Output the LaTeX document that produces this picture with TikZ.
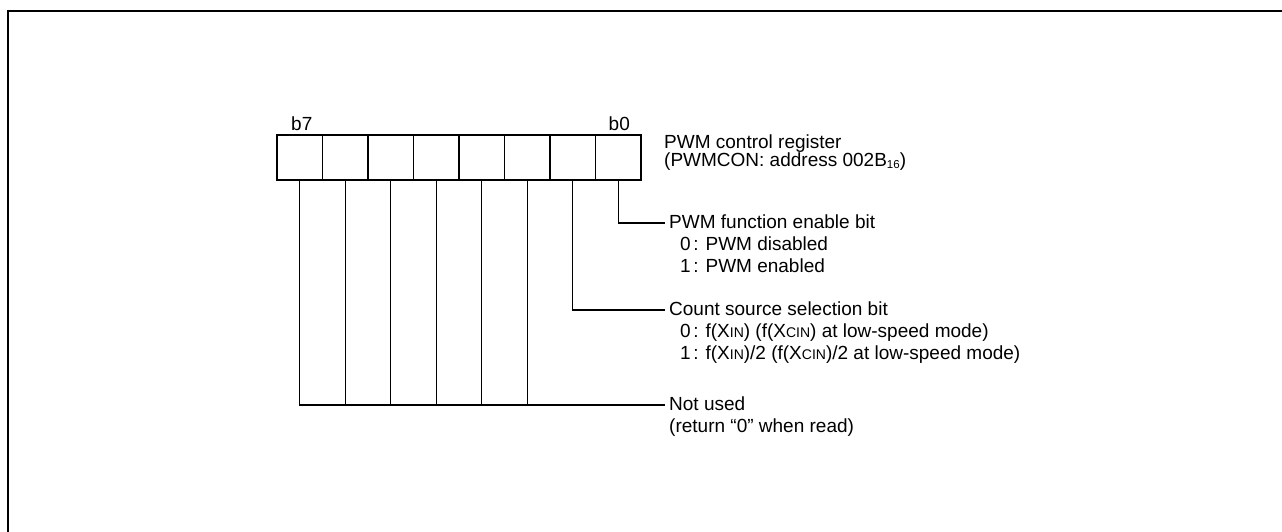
\documentclass[tikz,border=0pt]{standalone}
\usepackage{fontspec}
\setmainfont{Liberation Sans}
\begin{document}
\begin{tikzpicture}[x=1pt,y=-1pt,
  cell/.style={draw, line width=1.3pt, rectangle, minimum width=45.5pt, minimum height=45pt, inner sep=0pt},
  conn/.style={line width=1.3pt},
  lbl/.style={anchor=base west, inner sep=0pt, font=\fontsize{19}{22}\selectfont},
  frame/.style={line width=2.3pt}]
\useasboundingbox (0,0) rectangle (1282,531);
\clip (0,0) rectangle (1282,531);
\newcommand{\smc}[1]{{\fontsize{14}{14}\selectfont #1}}
\newcommand{\subsc}[1]{\raisebox{-2pt}{\fontsize{11.5}{11.5}\selectfont #1}}
% outer frame (only top and left visible)
\draw[frame] (8,540) -- (8,11) -- (1290,11);
% register cells
\foreach \i/\b in {0/7,1/6,2/5,3/4,4/3,5/2,6/1,7/0}{
  \node[cell] (c\b) at ({299.75+45.5*\i},157.5) {};
}
\node[lbl] (b7) at (291,130) {b7};
\node[lbl] (b0) at (608.5,130) {b0};
\node[lbl] (reg1) at (664,148) {PWM control register};
\node[lbl] (reg2) at (664,166.5) {(PWMCON: address 002B\subsc{16})};
% bit 0
\coordinate (e0) at (665,223);
\draw[conn] (c0.south) |- (e0);
\node[lbl] (t0a) at (669,228) {PWM function enable bit};
\node[lbl] (t0b) at (680,250) {0\hspace{2.5pt}: PWM disabled};
\node[lbl] (t0c) at (680,272) {1\hspace{2.5pt}: PWM enabled};
% bit 1
\coordinate (e1) at (665,310);
\draw[conn] (c1.south) |- (e1);
\node[lbl] (t1a) at (669,315) {Count source selection bit};
\node[lbl] (t1b) at (680,337) {0\hspace{2.5pt}: f(X\smc{IN}) (f(X\smc{CIN}) at low-speed mode)};
\node[lbl] (t1c) at (680,359) {1\hspace{2.5pt}: f(X\smc{IN})/2 (f(X\smc{CIN})/2 at low-speed mode)};
% bits 7..2
\coordinate (e7) at (665,405);
\draw[conn] (c7.south) |- (e7);
\foreach \b in {6,5,4,3,2}{
  \draw[conn] (c\b.south) -- (c\b.south |- e7);
}
\node[lbl] (t7a) at (669,410) {Not used};
\node[lbl] (t7b) at (669,432) {(return “0” when read)};
\end{tikzpicture}
\end{document}
